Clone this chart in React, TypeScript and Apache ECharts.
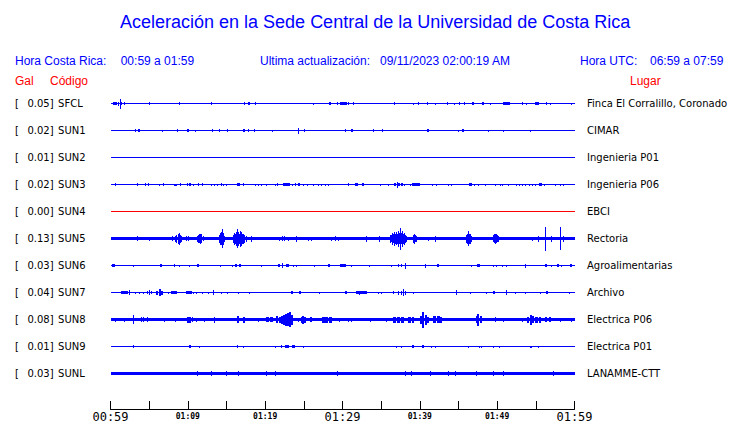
import React, { useEffect, useRef } from "react";
import * as echarts from "echarts";

// ---------- DATA ----------
const TITLE = "Aceleración en la Sede Central de la Universidad de Costa Rica";
const LOCAL_RANGE = "00:59 a 01:59";
const UPDATED = "09/11/2023 02:00:19 AM";
const UTC_RANGE = "06:59 a 07:59";

const codes = ["SFCL", "SUN1", "SUN2", "SUN3", "SUN4", "SUN5", "SUN6", "SUN7", "SUN8", "SUN9", "SUNL"];
const peaks = [0.05, 0.02, 0.01, 0.02, 0.0, 0.13, 0.03, 0.04, 0.08, 0.01, 0.03];
const places = [
  "Finca El Corralillo, Coronado", "CIMAR", "Ingenieria P01", "Ingenieria P06", "EBCI",
  "Rectoria", "Agroalimentarias", "Archivo", "Electrica P06", "Electrica P01", "LANAMME-CTT",
];
// minutes since 00:59 -> tick labels every 10 minutes
const timeLabels = ["00:59", "01:09", "01:19", "01:29", "01:39", "01:49", "01:59"];

// background noise half-amplitude (Gal)
const noise = [0, 0, 0, 0, 0, 0.018, 0, 0, 0.018, 0, 0.018];

// events: [minute, half-amplitude (Gal), duration (min, optional)]
const sfcl = [[0.52,0.014,0.52],[0.98,0.021],[1.24,0.053],[1.46,0.016],[1.76,0.016],[5.0,0.016],[8.88,0.016],[13.02,0.016],[17.29,0.016],[17.86,0.016,0.26],[18.71,0.016],[26.22,0.011],[28.42,0.014,0.26],[29.33,0.016],[30.1,0.014,0.86],[30.75,0.016],[31.4,0.016],[36.7,0.016],[39.16,0.011],[39.81,0.016],[41.03,0.016],[42.06,0.011],[43.56,0.016],[44.47,0.011],[45.08,0.016],[45.72,0.016],[46.85,0.014,0.26],[48.14,0.014,0.26],[49.18,0.011],[51.2,0.014,0.95],[53.32,0.016],[53.75,0.011],[55.2,0.014,0.56],[56.34,0.016],[56.94,0.011],[59.66,0.011]];
const sun1 = [[3.18,0.016],[3.66,0.014,0.26],[6.68,0.008],[8.62,0.016],[10.03,0.014,0.26],[11.0,0.008],[13.15,0.016],[14.05,0.016],[15.09,0.016],[17.23,0.014,0.26],[17.86,0.016],[18.58,0.016],[20.91,0.008],[24.37,0.029],[25.06,0.016],[30.36,0.016],[31.19,0.014,0.26],[33.99,0.016],[35.15,0.016],[41.1,0.014,0.26],[44.99,0.011],[45.56,0.014,0.26],[48.87,0.008],[50.81,0.008],[54.27,0.011]];
const sun2: number[][] = [];
const sun3 = [[0.69,0.016],[3.44,0.016],[4.53,0.016],[4.87,0.016],[6.38,0.008],[6.81,0.016],[8.36,0.011,0.4],[9.06,0.016],[9.91,0.016],[10.33,0.016,0.32],[10.78,0.011],[11.43,0.016],[11.85,0.016],[13.02,0.011],[13.41,0.011],[13.8,0.008],[14.37,0.016],[14.66,0.011],[15.01,0.008],[16.51,0.014,0.43],[17.16,0.016],[18.71,0.011],[19.15,0.011],[19.49,0.008],[20.19,0.011],[21.35,0.011],[21.61,0.016],[22.75,0.016,0.9],[23.5,0.011],[23.94,0.016],[24.43,0.016,0.31],[24.93,0.011],[25.44,0.011],[26.22,0.011],[26.96,0.011],[27.31,0.008],[27.77,0.008],[28.16,0.011],[30.75,0.016],[31.84,0.014,0.43],[32.59,0.014,0.26],[34.85,0.011],[35.93,0.008],[36.79,0.014,0.3],[37.09,0.032],[37.31,0.016,0.26],[37.7,0.014,0.3],[38.02,0.011],[38.74,0.011],[39.45,0.014,0.98],[41.67,0.011],[42.19,0.011],[43.69,0.008],[44.13,0.011],[46.5,0.014,0.43],[47.02,0.011],[47.57,0.008],[48.53,0.011],[49.74,0.011],[50.38,0.008],[50.68,0.011],[51.46,0.011],[52.54,0.011],[52.84,0.008],[53.32,0.011],[53.66,0.008],[54.17,0.011],[54.61,0.011],[54.91,0.011],[55.56,0.014,0.43],[56.08,0.011],[57.5,0.008],[58.15,0.011],[58.57,0.008]];
const sun4: number[][] = [];
const sun5 = [[3.44,0.026],[5.09,0.021],[8.02,0.026],[8.39,0.032],[8.58,0.042],[8.75,0.05],[8.88,0.063],[9.03,0.042],[9.19,0.032],[9.81,0.026],[10.13,0.026],[11.23,0.032],[11.43,0.042],[11.52,0.047],[11.62,0.053],[11.72,0.045],[11.82,0.042],[11.98,0.026],[14.08,0.042],[14.18,0.05],[14.27,0.063],[14.36,0.07],[14.44,0.102],[14.52,0.06],[14.6,0.063],[14.79,0.032],[15.89,0.042],[16.09,0.063],[16.18,0.05],[16.28,0.074],[16.36,0.06],[16.44,0.1],[16.52,0.06],[16.6,0.074],[16.7,0.05],[16.8,0.084],[16.9,0.055],[16.99,0.074],[17.09,0.05],[17.19,0.053],[17.38,0.042],[17.6,0.032],[18.25,0.032],[21.91,0.021],[22.26,0.026],[22.56,0.026],[22.99,0.021],[24.07,0.032],[25.57,0.021],[26.05,0.021],[28.6,0.021],[29.12,0.026],[29.46,0.021],[33.11,0.032],[34.72,0.032],[36.21,0.042],[36.34,0.035],[36.47,0.063],[36.6,0.045],[36.73,0.074],[36.86,0.05],[36.99,0.068],[37.12,0.055],[37.25,0.084],[37.4,0.06],[37.53,0.116],[37.64,0.06],[37.76,0.084],[37.89,0.05],[38.02,0.063],[38.15,0.04],[38.28,0.032],[39.12,0.042],[39.23,0.035],[39.34,0.053],[39.46,0.035],[39.58,0.032],[41.1,0.021],[42.07,0.032],[46.09,0.042],[46.18,0.05],[46.28,0.079],[46.39,0.055],[46.5,0.053],[46.61,0.04],[46.72,0.032],[49.54,0.037],[49.64,0.045],[49.74,0.053],[49.85,0.045],[49.96,0.047],[50.06,0.035],[50.16,0.032],[54.59,0.021],[55.34,0.032],[56.3,0.126],[57.05,0.032],[58.24,0.123],[58.58,0.032]];
const sun6 = [[0.34,0.016,0.43],[2.92,0.011],[6.48,0.014,0.26],[8.32,0.016],[8.97,0.008],[10.17,0.011],[11.27,0.014,0.26],[14.24,0.011],[15.79,0.011],[16.19,0.014,0.26],[16.73,0.014,0.3],[19.54,0.011],[21.76,0.014,0.3],[22.27,0.026],[22.95,0.014,0.34],[23.63,0.011],[24.07,0.011],[26.44,0.011],[28.28,0.014,0.26],[30.0,0.014,0.75],[31.19,0.011],[33.47,0.011],[36.37,0.011],[37.22,0.014],[37.57,0.014],[38.18,0.032],[40.68,0.021],[42.33,0.014,0.3],[46.72,0.011],[47.54,0.014,0.34],[49.52,0.011],[49.96,0.011],[50.73,0.011],[51.25,0.011],[53.62,0.021],[56.31,0.014,0.26],[57.07,0.011],[57.82,0.014,0.26],[58.37,0.011],[59.55,0.014,0.26]];
const sun7 = [[1.85,0.014,0.86],[2.5,0.026],[3.27,0.011],[3.7,0.011],[4.22,0.011],[4.76,0.016],[5.09,0.026],[5.28,0.016],[6.06,0.021,0.2],[6.38,0.037,0.2],[6.7,0.021,0.2],[7.45,0.011],[8.26,0.014,0.72],[10.13,0.014,0.74],[10.78,0.011],[11.13,0.011],[11.91,0.011],[12.63,0.011],[13.33,0.026],[14.37,0.011],[15.14,0.011],[16.51,0.008],[18.03,0.011],[23.5,0.014,0.26],[24.56,0.014,0.31],[27.09,0.008],[30.45,0.014,0.3],[32.26,0.021],[32.52,0.014,1.37],[34.63,0.008],[35.07,0.008],[36.57,0.016],[37.25,0.021],[37.57,0.021],[37.87,0.037],[38.09,0.021],[39.16,0.011],[44.69,0.026],[46.5,0.011],[48.66,0.011],[49.61,0.014,0.3],[51.2,0.026],[52.32,0.011],[53.62,0.011],[55.56,0.011],[56.43,0.014,0.3],[59.35,0.011]];
const sun8 = [[0.69,0.021],[1.85,0.021],[2.92,0.047],[4.05,0.026],[4.31,0.026],[4.74,0.026],[7.03,0.021],[8.45,0.021],[10.0,0.032,0.3],[10.33,0.032,0.3],[10.59,0.026],[11.13,0.021],[12.2,0.021],[13.5,0.032],[16.54,0.037,0.3],[17.32,0.032,0.3],[19.1,0.021],[20.36,0.026,0.4],[20.88,0.026,0.4],[21.59,0.037,0.3],[21.91,0.032,0.3],[22.23,0.042,0.2],[22.49,0.053,0.2],[22.62,0.045],[22.75,0.063,0.2],[22.88,0.05],[23.01,0.068,0.2],[23.14,0.05],[23.27,0.079,0.2],[23.4,0.05],[23.53,0.053,0.2],[24.28,0.021],[24.72,0.032,0.2],[24.93,0.042,0.2],[25.15,0.032,0.2],[25.92,0.026,0.3],[27.6,0.032,0.4],[27.99,0.032,0.4],[28.45,0.032,0.4],[29.55,0.021],[30.75,0.021],[31.19,0.021],[33.56,0.021],[35.72,0.021],[36.66,0.032,0.4],[37.18,0.032,0.4],[37.7,0.032,0.4],[38.61,0.032,0.4],[39.06,0.032,0.3],[40.09,0.042,0.3],[40.46,0.084,0.2],[40.81,0.053,0.3],[41.1,0.032,0.3],[41.91,0.037,0.4],[42.36,0.037,0.4],[42.79,0.032,0.3],[47.41,0.037,0.2],[47.57,0.063,0.2],[47.92,0.037,0.2],[49.74,0.026],[50.81,0.021],[53.3,0.021],[54.01,0.032,0.3],[54.36,0.053,0.3],[54.66,0.037,0.3],[55.11,0.032,0.4],[55.5,0.032,0.3],[56.34,0.026,0.3],[56.86,0.026,0.3],[58.15,0.021],[59.57,0.021]];
const sun9 = [[3.02,0.014],[10.29,0.014,0.22],[11.47,0.011],[16.44,0.014],[17.16,0.011],[21.39,0.011],[22.13,0.014],[22.82,0.014,0.56],[23.63,0.014,0.4],[24.93,0.011],[37.01,0.011],[37.66,0.008],[39.15,0.014,0.22],[40.46,0.014,0.22],[41.45,0.008],[41.97,0.008],[46.28,0.008],[47.66,0.008],[48.01,0.008],[49.52,0.008],[50.25,0.008],[54.42,0.011,0.3],[55.34,0.008]];
const sunl = [[11.21,0.024],[13.07,0.024],[15.01,0.024],[16.51,0.026],[20.19,0.024],[21.39,0.024],[29.33,0.024],[38.09,0.024],[38.86,0.026],[41.32,0.024],[43.69,0.024],[44.65,0.024],[47.37,0.024],[49.52,0.024],[50.81,0.024],[57.28,0.024]];

const events = [sfcl, sun1, sun2, sun3, sun4, sun5, sun6, sun7, sun8, sun9, sunl];

// ---------- DISPLAY ----------
const BLUE = "#0000ff";
const RED = "#ff0000";
const traceColors = codes.map((c) => (c === "SUN4" ? RED : BLUE));
const GAL_PER_ROW = 0.2842; // vertical spacing between traces, in Gal
const SPIKE_MIN = 0.13; // minutes

export default function App() {
  const ref = useRef<HTMLDivElement>(null);
  useEffect(() => {
    if (!ref.current) return;
    const chart = echarts.init(ref.current, null, { renderer: "svg" });

    const data: number[][] = [];
    events.forEach((ev, i) => {
      data.push([30, i * GAL_PER_ROW, noise[i], 60, i]);
      ev.forEach((e) => data.push([e[0], i * GAL_PER_ROW, e[1], e[2] ?? SPIKE_MIN, i]));
    });

    const hdrFont = '12px "Liberation Sans", Arial, sans-serif';
    const txt = (text: string, x: number, y: number, fill: string, font = hdrFont) => ({
      type: "text",
      x,
      y,
      silent: true,
      style: { text, fill, font, align: "left", verticalAlign: "middle" },
    });
    const lblFont = '"DejaVu Sans", sans-serif';

    chart.setOption({
      animation: false,
      backgroundColor: "#ffffff",
      grid: { left: 110.5, width: 464, top: 90, height: 297 },
      xAxis: {
        type: "value",
        min: 0,
        max: 60,
        interval: 5,
        offset: 22,
        axisLine: { show: true, onZero: false, lineStyle: { color: "#000", width: 1 } },
        axisTick: { show: true, inside: true, length: 8, lineStyle: { color: "#000", width: 1 } },
        splitLine: { show: false },
        axisLabel: {
          margin: 2,
          showMinLabel: true,
          showMaxLabel: true,
          formatter: (v: number) => {
            if (v % 10 !== 0) return "";
            const s = timeLabels[v / 10];
            return v % 30 === 0 ? `{big|${s}}` : `{small|${s}}`;
          },
          rich: {
            big: { fontFamily: '"DejaVu Sans Mono", monospace', fontSize: 12, color: "#000", lineHeight: 12 },
            small: { fontFamily: '"DejaVu Sans Mono", monospace', fontSize: 8, fontWeight: "bold", color: "#000", lineHeight: 10 },
          },
        },
      },
      yAxis: [
        {
          type: "value",
          show: false,
          position: "left",
          inverse: true,
          min: -0.5 * GAL_PER_ROW,
          max: 10.5 * GAL_PER_ROW,
        },
        {
          type: "category",
          position: "left",
          inverse: true,
          data: codes,
          axisLine: { show: false },
          axisTick: { show: false },
          splitLine: { show: false },
          axisLabel: {
            interval: 0,
            align: "left",
            margin: 95.5,
            formatter: (value: string, index: number) =>
              `{br|[}{pk|${peaks[index].toFixed(2)}]}{cd|${value}}`,
            rich: {
              br: { fontFamily: lblFont, fontSize: 10, color: "#000" },
              pk: { fontFamily: lblFont, fontSize: 10, color: "#000", padding: [0, 0, 0, 8.5] },
              cd: { fontFamily: lblFont, fontSize: 10, color: "#000", padding: [0, 0, 0, 4.5] },
            },
          },
        },
        {
          type: "category",
          position: "right",
          inverse: true,
          data: places,
          axisLine: { show: false },
          axisTick: { show: false },
          splitLine: { show: false },
          axisLabel: {
            interval: 0,
            margin: 12.5,
            fontFamily: lblFont,
            fontSize: 10,
            color: "#000",
          },
        },
      ],
      series: [
        {
          type: "custom",
          coordinateSystem: "cartesian2d",
          xAxisIndex: 0,
          yAxisIndex: 0,
          silent: true,
          encode: { x: 0, y: 1 },
          data,
          renderItem: (params: any, api: any) => {
            const t = api.value(0);
            const yc = api.value(1);
            const a = api.value(2);
            const d = api.value(3);
            const row = api.value(4);
            const c = api.coord([t, yc]);
            const lo = api.coord([t - d / 2, yc - a]);
            const hi = api.coord([t + d / 2, yc + a]);
            const W = Math.max(1, Math.round(Math.abs(hi[0] - lo[0])));
            const H = Math.max(1, Math.round(Math.abs(hi[1] - lo[1])));
            return {
              type: "rect",
              shape: { x: Math.round(c[0] - W / 2), y: Math.round(c[1] - H / 2), width: W, height: H },
              style: { fill: traceColors[row] },
            };
          },
        },
      ],
      graphic: [
        txt(TITLE, 120, 22, BLUE, '18px "Liberation Sans", Arial, sans-serif'),
        txt("Hora Costa Rica:", 15, 60.5, BLUE),
        txt(LOCAL_RANGE, 120.7, 60.5, BLUE),
        txt("Ultima actualización:", 260, 60.5, BLUE),
        txt(UPDATED, 380, 60.5, BLUE),
        txt("Hora UTC:", 580, 60.5, BLUE),
        txt(UTC_RANGE, 650, 60.5, BLUE),
        txt("Gal", 15, 80.5, RED),
        txt("Código", 50, 80.5, RED),
        txt("Lugar", 630, 80.5, RED),
      ],
    });
    return () => chart.dispose();
  }, []);
  return (
    <div
      ref={ref}
      style={{ position: "fixed", left: 0, top: 0, width: 740, height: 423, background: "#fff" }}
    />
  );
}
